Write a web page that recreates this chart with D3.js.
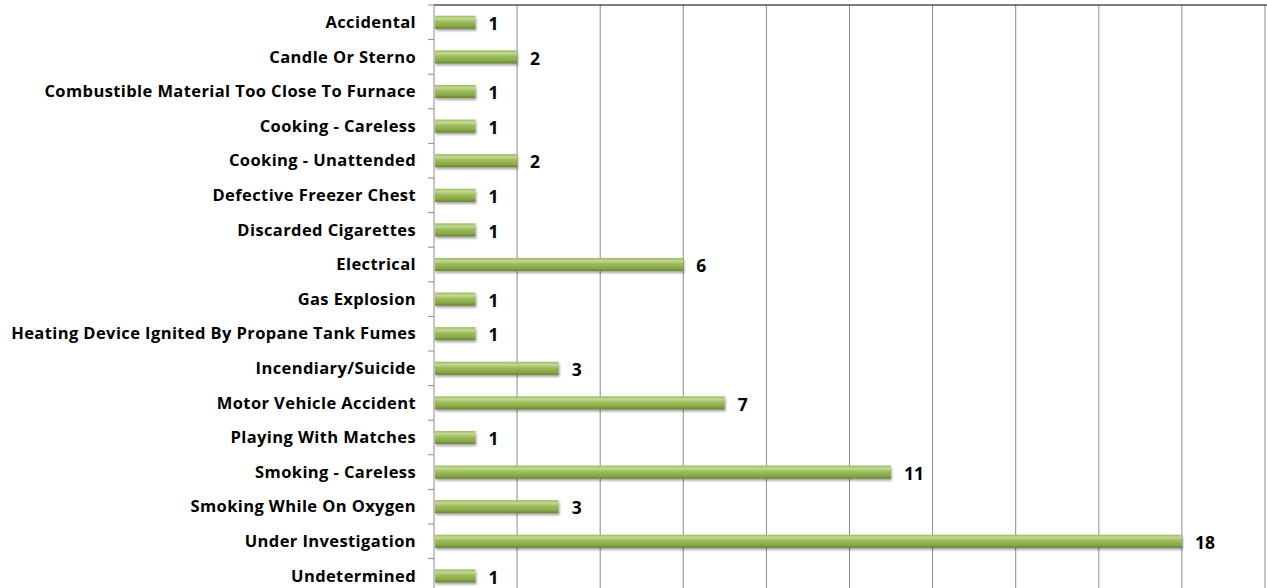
<!DOCTYPE html>
<html>
<head>
<meta charset="utf-8">
<script src="https://cdn.jsdelivr.net/npm/d3@7"></script>
<style>
  body { margin: 0; background: #fff; }
  svg text { font-family: "Open Sans", sans-serif; font-weight: bold; fill: #000; }
</style>
</head>
<body>
<svg id="chart"></svg>
<script>
const categories = [
    'Accidental',
    'Candle Or Sterno',
    'Combustible Material Too Close To Furnace',
    'Cooking - Careless',
    'Cooking - Unattended',
    'Defective Freezer Chest',
    'Discarded Cigarettes',
    'Electrical',
    'Gas Explosion',
    'Heating Device Ignited By Propane Tank Fumes',
    'Incendiary/Suicide',
    'Motor Vehicle Accident',
    'Playing With Matches',
    'Smoking - Careless',
    'Smoking While On Oxygen',
    'Under Investigation',
    'Undetermined',
];
const values = [1, 2, 1, 1, 2, 1, 1, 6, 1, 1, 3, 7, 1, 11, 3, 18, 1];
const xTicks = [0, 2, 4, 6, 8, 10, 12, 14, 16, 18, 20];

const fullWidth = 1267;
const fullHeight = 588;
const margin = {top: 5, right: 2, left: 434};
const width = fullWidth - margin.left - margin.right;
const bandStep = 34.6;
const plotHeight = bandStep * categories.length;

const svg = d3.select('#chart')
    .attr('width', fullWidth)
    .attr('height', fullHeight);

const defs = svg.append('defs');
const grad = defs.append('linearGradient')
    .attr('id', 'bar-grad')
    .attr('x1', 0).attr('y1', 0).attr('x2', 0).attr('y2', 1);
grad.append('stop').attr('offset', '0%').attr('stop-color', '#9cb95a');
grad.append('stop').attr('offset', '22%').attr('stop-color', '#c3d898');
grad.append('stop').attr('offset', '45%').attr('stop-color', '#9ebd5b');
grad.append('stop').attr('offset', '80%').attr('stop-color', '#87a647');
grad.append('stop').attr('offset', '100%').attr('stop-color', '#66822f');

const shadow = defs.append('filter').attr('id', 'bar-shadow')
    .attr('x', '-5%').attr('y', '-30%').attr('width', '110%').attr('height', '180%');
shadow.append('feDropShadow')
    .attr('dx', 1).attr('dy', 2).attr('stdDeviation', 1.2)
    .attr('flood-color', '#000').attr('flood-opacity', 0.35);

const g = svg.append('g')
    .attr('transform', `translate(${margin.left}, ${margin.top})`);

const x = d3.scaleLinear().domain([0, 20]).range([0, width]);
const y = d3.scaleBand().domain(categories).range([0, plotHeight]).paddingInner(0.62).paddingOuter(0.31);

// gridlines
g.append('g').attr('class', 'grid')
    .selectAll('line').data(xTicks.slice(1))
    .enter().append('line')
        .attr('x1', d => x(d)).attr('x2', d => x(d))
        .attr('y1', 0).attr('y2', plotHeight)
        .attr('stroke', '#8c8c8c').attr('stroke-width', 1);

// top border
g.append('line')
    .attr('x1', 0).attr('x2', width + margin.right)
    .attr('y1', 0).attr('y2', 0)
    .attr('stroke', '#000').attr('stroke-width', 1);

// y axis
const yAxisBoundaries = d3.range(categories.length + 1).map(i => i * bandStep);
g.append('g').attr('class', 'y-ticks')
    .selectAll('line').data(yAxisBoundaries)
    .enter().append('line')
        .attr('x1', -6).attr('x2', 0)
        .attr('y1', d => d).attr('y2', d => d)
        .attr('stroke', '#8c8c8c');
g.append('line')
    .attr('x1', 0).attr('x2', 0).attr('y1', 0).attr('y2', plotHeight)
    .attr('stroke', '#8c8c8c');

g.append('g').attr('class', 'labels')
    .selectAll('text').data(categories)
    .enter().append('text')
        .attr('x', -18)
        .attr('y', d => y(d) + y.bandwidth() / 2)
        .attr('dy', '0.35em')
        .attr('text-anchor', 'end')
        .style('font-size', '16.5px')
        .style('letter-spacing', '0.4px')
        .text(d => d);

const data = categories.map((c, i) => ({category: c, value: values[i]}));

g.append('g').attr('class', 'bars')
    .selectAll('rect').data(data)
    .enter().append('rect')
        .attr('x', 1)
        .attr('y', d => y(d.category))
        .attr('width', d => x(d.value) - 1)
        .attr('height', y.bandwidth())
        .attr('fill', 'url(#bar-grad)')
        .attr('filter', 'url(#bar-shadow)');

g.append('g').attr('class', 'values')
    .selectAll('text').data(data)
    .enter().append('text')
        .attr('x', d => x(d.value) + 13)
        .attr('y', d => y(d.category) + y.bandwidth() / 2 + 1.5)
        .attr('dy', '0.35em')
        .style('font-size', '17.5px')
        .text(d => d.value);
</script>
</body>
</html>
